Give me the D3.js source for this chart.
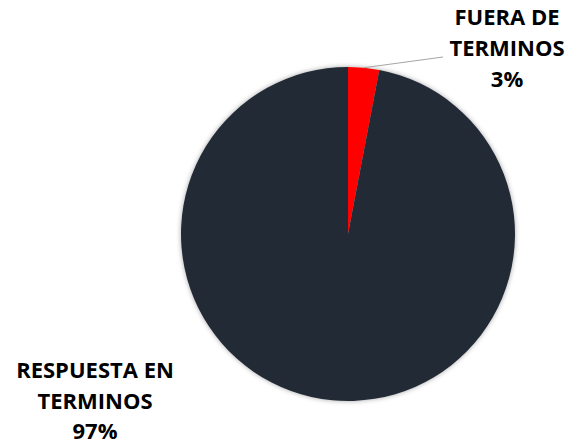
<!DOCTYPE html>
<html>
<head>
<meta charset="utf-8">
<script src="https://cdn.jsdelivr.net/npm/d3@7"></script>
<style>
  html, body { margin: 0; padding: 0; background: #fff; }
  svg { display: block; }
</style>
</head>
<body>
<svg id="chart" width="569" height="445"></svg>
<script>
const categories = ["FUERA DE TERMINOS", "RESPUESTA EN TERMINOS"];
const values = [3, 97];
const labelLines = [["FUERA DE", "TERMINOS", "3%"], ["RESPUESTA EN", "TERMINOS", "97%"]];
const colors = ["#ff0000", "#232a36"];

const svg = d3.select("#chart");
const cx = 348, cy = 234, r = 167;

const defs = svg.append("defs");
const f = defs.append("filter").attr("id", "sh").attr("x", "-10%").attr("y", "-10%").attr("width", "120%").attr("height", "120%");
f.append("feDropShadow").attr("dx", 0).attr("dy", 0).attr("stdDeviation", 2.5).attr("flood-color", "#000").attr("flood-opacity", 0.35);

const pie = d3.pie().sort(null).value(d => d)(values);
const arc = d3.arc().innerRadius(0).outerRadius(r);

const g = svg.append("g").attr("transform", `translate(${cx},${cy})`);
g.append("g").attr("filter", "url(#sh)")
  .selectAll("path").data(pie).join("path")
  .attr("d", arc)
  .attr("fill", (d, i) => colors[i]);

// label positions (centre x, first baseline y, line step)
const labelPos = [
  { x: 507, y: 25, step: 31 },
  { x: 95, y: 378, step: 30.5 }
];

// leader line for small slice
const a0 = (pie[0].startAngle + pie[0].endAngle) / 2;
const sx = cx + Math.sin(a0) * r, sy = cy - Math.cos(a0) * r;
svg.append("path")
  .attr("d", `M${sx},${sy}L443,57`)
  .attr("stroke", "#a6a6a6").attr("stroke-width", 1.2).attr("fill", "none");

labelLines.forEach((lines, i) => {
  const t = svg.append("text")
    .attr("text-anchor", "middle")
    .attr("font-family", "'Open Sans', sans-serif")
    .attr("font-weight", "bold")
    .attr("font-size", 22)
    .attr("fill", "#000");
  lines.forEach((ln, j) => {
    t.append("tspan").attr("x", labelPos[i].x).attr("y", labelPos[i].y + j * labelPos[i].step).text(ln);
  });
});
</script>
</body>
</html>
